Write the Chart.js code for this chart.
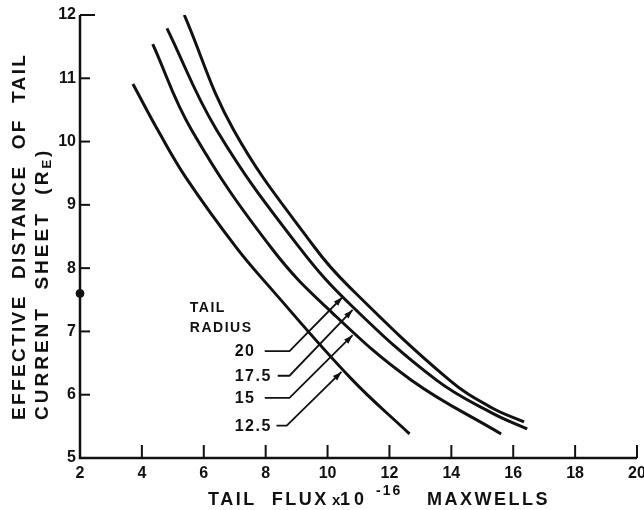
<!DOCTYPE html>
<html>
<head>
<meta charset="utf-8">
<script src="https://cdn.jsdelivr.net/npm/chart.js@4"></script>
<style>
  html, body { margin: 0; padding: 0; background: #ffffff; }
  #wrap { width: 644px; height: 510px; }
</style>
</head>
<body>
<div id="wrap"><canvas id="fluxChart"></canvas></div>
<script>
// Effective distance of tail current sheet vs tail flux, one curve per tail radius
const radiusLabels = ["12.5", "15", "17.5", "20"];

const flux125 = [3.71, 4.55, 5.45, 7.06, 8.13, 10.77, 12.65];
const dist125 = [10.91, 10.15, 9.41, 8.32, 7.70, 6.25, 5.38];

const flux15 = [4.35, 5.61, 8.23, 10.16, 12.71, 15.61];
const dist15 = [11.54, 10.18, 8.29, 7.29, 6.23, 5.38];

const flux175 = [4.81, 6.42, 9.10, 10.81, 13.52, 15.32, 16.45];
const dist175 = [11.79, 10.18, 8.32, 7.39, 6.23, 5.71, 5.46];

const flux20 = [5.37, 6.97, 9.58, 10.71, 13.94, 15.32, 16.35];
const dist20 = [12.0, 10.18, 8.33, 7.70, 6.23, 5.79, 5.57];

// single marked point on the axis
const markFlux = [2];
const markDist = [7.6];

const xTickValues = [2, 4, 6, 8, 10, 12, 14, 16, 18, 20];
const yTickValues = [5, 6, 7, 8, 9, 10, 11, 12];

// "TAIL RADIUS" key: labels with leader lines to the curves (data units)
const keyLabels = ["20", "17.5", "15", "12.5"];
const keyTextX = 7.0;
const keyLineY = [6.69, 6.30, 5.95, 5.51];
const keyStartX = [7.97, 8.39, 7.97, 8.35];
const keyBendX = [8.77, 8.77, 8.77, 8.68];
const keyTipX = [10.48, 10.81, 10.81, 10.45];
const keyTipY = [7.54, 7.34, 6.94, 6.36];
const keyTitle = ["TAIL", "RADIUS"];
const keyTitleX = 5.55;
const keyTitleY = [7.37, 7.05];

const ink = "#111111";
const fontFamily = '"Liberation Sans", Arial, sans-serif';

function toPoints(xs, ys) {
  return xs.map(function (v, i) { return { x: v, y: ys[i] }; });
}

const curveSets = [
  [flux125, dist125],
  [flux15, dist15],
  [flux175, dist175],
  [flux20, dist20],
];

const datasets = curveSets.map(function (pair, i) {
  return {
    label: "Tail radius " + radiusLabels[i],
    data: toPoints(pair[0], pair[1]),
    showLine: true,
    borderColor: ink,
    borderWidth: 3,
    pointRadius: 0,
    tension: 0.4,
    fill: false,
  };
});

datasets.push({
  label: "Mark",
  data: toPoints(markFlux, markDist),
  showLine: false,
  pointRadius: 4,
  pointBackgroundColor: ink,
  pointBorderColor: ink,
  clip: false,
});

function drawArrow(ctx, x0, y0, x1, y1) {
  const ang = Math.atan2(y1 - y0, x1 - x0);
  const len = 9, half = 3;
  ctx.beginPath();
  ctx.moveTo(x1, y1);
  ctx.lineTo(x1 - len * Math.cos(ang) + half * Math.sin(ang), y1 - len * Math.sin(ang) - half * Math.cos(ang));
  ctx.lineTo(x1 - len * Math.cos(ang) - half * Math.sin(ang), y1 - len * Math.sin(ang) + half * Math.cos(ang));
  ctx.closePath();
  ctx.fill();
}

const decorations = {
  id: "decorations",
  afterDraw(chart) {
    const ctx = chart.ctx;
    const area = chart.chartArea;
    const xs = chart.scales.x;
    const ys = chart.scales.y;
    ctx.save();
    ctx.strokeStyle = ink;
    ctx.fillStyle = ink;

    // axes
    ctx.lineWidth = 2.5;
    ctx.beginPath();
    ctx.moveTo(area.left, area.top);
    ctx.lineTo(area.left, area.bottom);
    ctx.lineTo(area.right, area.bottom);
    ctx.stroke();

    // inward tick marks
    ctx.lineWidth = 2;
    xs.ticks.forEach(function (t) {
      const px = xs.getPixelForValue(t.value);
      ctx.beginPath();
      ctx.moveTo(px, area.bottom);
      ctx.lineTo(px, area.bottom - 13);
      ctx.stroke();
    });
    ys.ticks.forEach(function (t) {
      const py = ys.getPixelForValue(t.value);
      const len = t.value === 12 ? 15 : 10;
      ctx.beginPath();
      ctx.moveTo(area.left, py);
      ctx.lineTo(area.left + len, py);
      ctx.stroke();
    });

    // key
    ctx.font = "bold 14px " + fontFamily;
    ctx.letterSpacing = "1.5px";
    ctx.textBaseline = "middle";
    ctx.textAlign = "left";
    keyTitle.forEach(function (s, i) {
      ctx.fillText(s, xs.getPixelForValue(keyTitleX), ys.getPixelForValue(keyTitleY[i]));
    });
    ctx.font = "bold 16px " + fontFamily;
    ctx.letterSpacing = "1.5px";
    ctx.lineWidth = 1.8;
    keyLabels.forEach(function (s, i) {
      const ty = ys.getPixelForValue(keyLineY[i]);
      ctx.fillText(s, xs.getPixelForValue(keyTextX), ty + 1);
      const bx = xs.getPixelForValue(keyBendX[i]);
      const tx = xs.getPixelForValue(keyTipX[i]);
      const tipY = ys.getPixelForValue(keyTipY[i]);
      ctx.beginPath();
      ctx.moveTo(xs.getPixelForValue(keyStartX[i]), ty);
      ctx.lineTo(bx, ty);
      ctx.lineTo(tx, tipY);
      ctx.stroke();
      drawArrow(ctx, bx, ty, tx, tipY);
    });

    // x axis title with superscript
    ctx.letterSpacing = "2.5px";
    ctx.textBaseline = "alphabetic";
    const base = 505;
    ctx.font = "bold 18px " + fontFamily;
    ctx.fillText("TAIL  FLUX", area.left + 128, base);
    ctx.letterSpacing = "0px";
    ctx.font = "bold 15px " + fontFamily;
    ctx.fillText("x", area.left + 252, base);
    ctx.letterSpacing = "4px";
    ctx.font = "bold 18px " + fontFamily;
    ctx.fillText("10", area.left + 260, base);
    ctx.letterSpacing = "2px";
    ctx.font = "bold 14px " + fontFamily;
    ctx.fillText("-16", area.left + 296, base - 10);
    ctx.letterSpacing = "2.5px";
    ctx.font = "bold 18px " + fontFamily;
    ctx.fillText("MAXWELLS", area.left + 347, base);

    // y axis title, two rotated lines
    ctx.save();
    ctx.translate(25, 420);
    ctx.rotate(-Math.PI / 2);
    ctx.font = "bold 19px " + fontFamily;
    ctx.letterSpacing = "2.35px";
    ctx.fillText("EFFECTIVE  DISTANCE  OF  TAIL", 0, 0);
    ctx.restore();

    ctx.save();
    ctx.translate(48, 420);
    ctx.rotate(-Math.PI / 2);
    ctx.font = "bold 19px " + fontFamily;
    ctx.letterSpacing = "3px";
    const head = "CURRENT  SHEET  (R";
    ctx.fillText(head, 0, 0);
    let w = ctx.measureText(head).width;
    ctx.font = "bold 13px " + fontFamily;
    ctx.fillText("E", w, 3);
    w += ctx.measureText("E").width;
    ctx.font = "bold 19px " + fontFamily;
    ctx.fillText(")", w, 0);
    ctx.restore();

    ctx.restore();
  },
};

const ctx = document.getElementById("fluxChart").getContext("2d");

new Chart(ctx, {
  type: "scatter",
  data: { datasets: datasets },
  options: {
    responsive: true,
    maintainAspectRatio: false,
    animation: false,
    layout: { padding: { top: 15, right: 7, left: 0, bottom: 0 } },
    plugins: {
      legend: { display: false },
      tooltip: { enabled: false },
    },
    scales: {
      x: {
        type: "linear",
        min: 2,
        max: 20,
        afterBuildTicks: function (scale) {
          scale.ticks = xTickValues.map(function (v) { return { value: v }; });
        },
        afterFit: function (scale) {
          scale.height = 52;
          scale.paddingLeft = 0;
          scale.paddingRight = 0;
        },
        grid: { display: false, drawTicks: false },
        border: { display: false },
        ticks: {
          color: ink,
          padding: 6,
          maxRotation: 0,
          font: { family: fontFamily, size: 16, weight: "bold" },
        },
      },
      y: {
        type: "linear",
        min: 5,
        max: 12,
        afterBuildTicks: function (scale) {
          scale.ticks = yTickValues.map(function (v) { return { value: v }; });
        },
        afterFit: function (scale) {
          scale.width = 80;
          scale.paddingTop = 0;
          scale.paddingBottom = 0;
        },
        grid: { display: false, drawTicks: false },
        border: { display: false },
        ticks: {
          color: ink,
          padding: 4,
          font: { family: fontFamily, size: 16, weight: "bold" },
        },
      },
    },
  },
  plugins: [decorations],
});
</script>
</body>
</html>
